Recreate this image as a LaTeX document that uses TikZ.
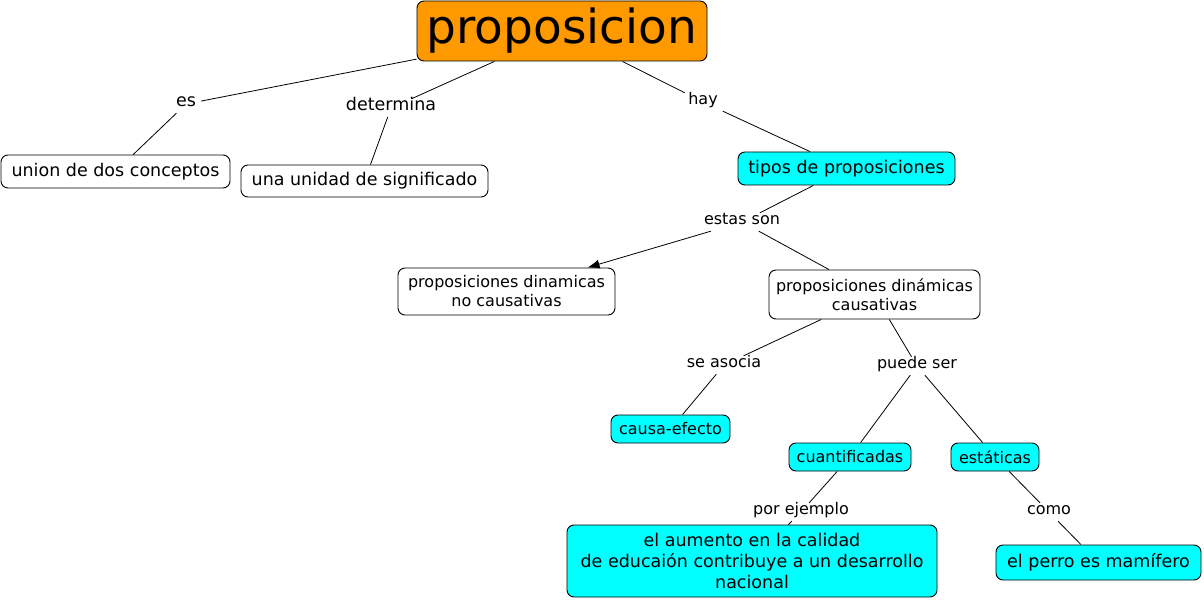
\documentclass[tikz,border=0pt]{standalone}
\usepackage{fontspec}
\setmainfont{DejaVu Sans}
\usetikzlibrary{arrows.meta}
\definecolor{corange}{HTML}{FF9900}
\definecolor{ccyan}{HTML}{00FFFF}
\tikzset{
  concept/.style={draw=black, line width=0.9pt, rounded corners=7pt, inner sep=0pt, align=center},
  white/.style={concept, fill=white},
  cyanbox/.style={concept, fill=ccyan},
  big/.style={font=\fontsize{17.5}{21}\selectfont},
  small/.style={font=\fontsize{16}{19}\selectfont},
  lab/.style={inner sep=5pt, text height=1.2ex, text depth=0.25ex},
  link/.style={line width=0.8pt, black},
}
\begin{document}
\begin{tikzpicture}[x=1pt,y=-1pt]
\useasboundingbox (0,0) rectangle (1204,601);
% concepts
\node[concept, fill=corange, minimum width=290pt, minimum height=60pt, font=\fontsize{47}{50}\selectfont] (prop) at (562,31) {proposicion};
\node[white, big, minimum width=229pt, minimum height=33pt] (union) at (115.5,171.5) {union de dos conceptos};
\node[white, big, minimum width=247pt, minimum height=32pt] (unidad) at (364.5,181) {una unidad de significado};
\node[cyanbox, big, minimum width=217pt, minimum height=33pt] (tipos) at (846.5,168.5) {tipos de proposiciones};
\node[white, small, minimum width=217pt, minimum height=47pt] (dinno) at (506.5,291.5) {proposiciones dinamicas\\no causativas};
\node[white, small, minimum width=211pt, minimum height=49pt] (dincaus) at (874.5,294.5) {proposiciones dinámicas\\causativas};
\node[cyanbox, small, minimum width=119pt, minimum height=28pt] (causa) at (670.5,429) {causa-efecto};
\node[cyanbox, small, minimum width=122pt, minimum height=28pt] (cuant) at (850,457) {cuantificadas};
\node[cyanbox, small, minimum width=88pt, minimum height=28pt] (estat) at (995,457) {estáticas};
\node[cyanbox, font=\fontsize{17.5}{21}\selectfont, minimum width=370pt, minimum height=72pt] (aumento) at (752,561) {el aumento en la calidad\\de educaión contribuye a un desarrollo\\nacional};
\node[cyanbox, big, minimum width=205pt, minimum height=35pt] (perro) at (1098.5,562.5) {el perro es mamífero};
% linking phrases
\node[lab, big] (es) at (186,104) {es};
\node[lab, big] (determina) at (391,108) {determina};
\node[lab, small] (hay) at (703,102) {hay};
\node[lab, small] (estas) at (742,222) {estas son};
\node[lab, small] (asocia) at (724,365) {se asocia};
\node[lab, small] (puede) at (917,366) {puede ser};
\node[lab, small] (ejemplo) at (801,512) {por ejemplo};
\node[lab, small] (como) at (1049,512) {como};
% connectors
\draw[link] (prop) -- (es);
\draw[link] (es) -- (union);
\draw[link] (prop) -- (determina);
\draw[link] (determina) -- (unidad);
\draw[link] (prop) -- (hay);
\draw[link] (hay) -- (tipos);
\draw[link] (tipos) -- (estas);
\draw[link, -{Latex[length=12pt,width=9pt]}] (estas) -- (dinno);
\draw[link] (estas) -- (dincaus);
\draw[link] (dincaus) -- (asocia);
\draw[link] (asocia) -- (causa);
\draw[link] (dincaus) -- (puede);
\draw[link] (puede) -- (cuant);
\draw[link] (puede) -- (estat);
\draw[link] (cuant) -- (ejemplo);
\draw[link] (ejemplo) -- (aumento);
\draw[link] (estat) -- (como);
\draw[link] (como) -- (perro);
\end{tikzpicture}
\end{document}
